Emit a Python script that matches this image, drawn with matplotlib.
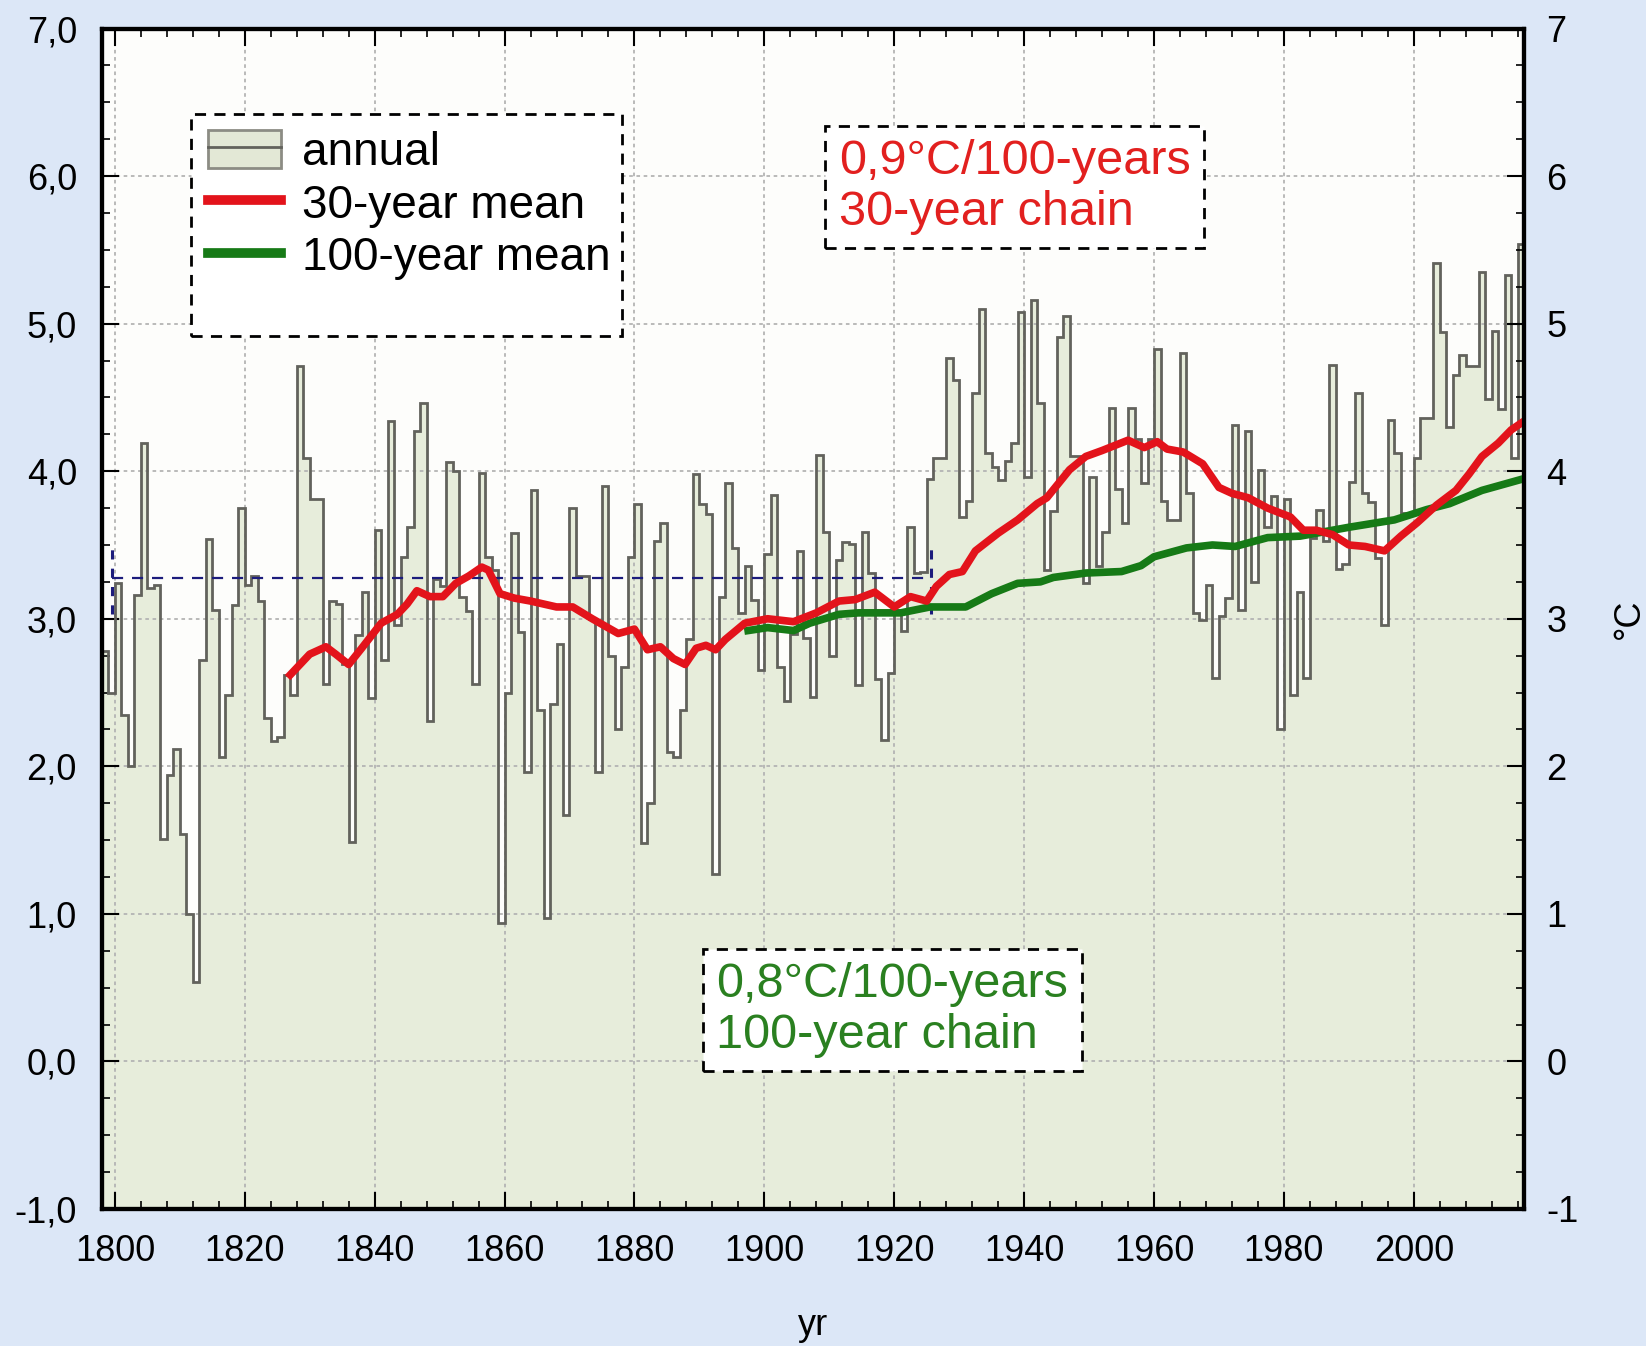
import numpy as np
import matplotlib
matplotlib.use("Agg")
import matplotlib.pyplot as plt
from matplotlib import font_manager
from matplotlib.patches import Patch, Rectangle
from matplotlib.lines import Line2D
from matplotlib.ticker import MultipleLocator

# annual values, one per year starting at first_year (step from year to year+1)
first_year = 1798
annual = [
    2.78, 2.50, 3.24, 2.35, 2.00, 3.16, 4.19, 3.21, 3.23, 1.51,
    1.94, 2.12, 1.54, 1.00, 0.54, 2.72, 3.54, 3.06, 2.06, 2.48,
    3.09, 3.75, 3.23, 3.29, 3.12, 2.33, 2.17, 2.20, 2.62, 2.48,
    4.71, 4.09, 3.81, 3.81, 2.56, 3.12, 3.10, 2.69, 1.49, 2.89,
    3.18, 2.46, 3.60, 2.72, 4.34, 2.96, 3.42, 3.62, 4.27, 4.46,
    2.31, 3.27, 3.22, 4.06, 4.00, 3.15, 3.05, 2.56, 3.99, 3.42,
    3.33, 0.94, 2.50, 3.58, 2.91, 1.96, 3.87, 2.38, 0.97, 2.42,
    2.83, 1.67, 3.75, 3.29, 3.29, 3.00, 1.96, 3.90, 2.75, 2.25,
    2.67, 3.42, 3.78, 1.48, 1.75, 3.53, 3.65, 2.10, 2.06, 2.38,
    2.86, 3.98, 3.78, 3.71, 1.27, 3.15, 3.92, 3.48, 3.04, 3.36,
    3.13, 2.65, 3.44, 3.84, 2.67, 2.44, 2.90, 3.46, 2.87, 2.47,
    4.11, 3.59, 2.75, 3.40, 3.52, 3.51, 2.55, 3.59, 3.31, 2.59,
    2.18, 2.63, 3.05, 2.92, 3.62, 3.31, 3.32, 3.95, 4.09, 4.09,
    4.77, 4.62, 3.69, 3.80, 4.53, 5.10, 4.12, 4.03, 3.94, 4.07,
    4.19, 5.08, 3.96, 5.16, 4.46, 3.33, 3.73, 4.91, 5.05, 4.10,
    4.10, 3.24, 3.96, 3.36, 3.59, 4.43, 3.88, 3.65, 4.43, 4.22,
    3.92, 4.22, 4.83, 3.80, 3.67, 3.67, 4.80, 3.85, 3.04, 2.99,
    3.23, 2.60, 3.02, 3.14, 4.31, 3.06, 4.27, 3.25, 4.01, 3.62,
    3.83, 2.25, 3.81, 2.48, 3.18, 2.60, 3.55, 3.74, 3.53, 4.72,
    3.34, 3.37, 3.93, 4.53, 3.85, 3.79, 3.41, 2.96, 4.35, 4.12,
    3.72, 3.72, 4.09, 4.36, 4.36, 5.41, 4.94, 4.30, 4.65, 4.79,
    4.71, 4.71, 5.35, 4.49, 4.95, 4.42, 5.33, 4.09, 5.54,
]

mean30_years = [
    1827, 1830, 1832.5, 1834, 1836, 1838, 1841, 1843.5, 1845, 1846.5,
    1848.5, 1850.5, 1852.5, 1854.5, 1856.5, 1857.5, 1859.3, 1861.5, 1864, 1866,
    1868, 1870.5, 1873.5, 1875.5, 1877.5, 1880, 1882, 1884, 1886, 1887.8,
    1889.5, 1891, 1892.5, 1894, 1897, 1900.5, 1904.5, 1908, 1911.5, 1914,
    1917, 1920, 1922.5, 1925, 1926.5, 1928.5, 1930.5, 1932.5, 1936, 1939,
    1942, 1943.5, 1947, 1949.5, 1952, 1956, 1958.5, 1960.5, 1962, 1964.5,
    1967.5, 1970, 1972, 1974.5, 1977.5, 1981, 1983, 1985, 1987.5, 1990,
    1992.5, 1995.5, 1998, 2000.5, 2003.5, 2006.5, 2008.5, 2010.5, 2013, 2015,
    2017,
]
mean30 = [
    2.62, 2.76, 2.81, 2.76, 2.69, 2.80, 2.97, 3.03, 3.10, 3.19,
    3.15, 3.15, 3.24, 3.29, 3.35, 3.33, 3.17, 3.14, 3.12, 3.10,
    3.08, 3.08, 3.00, 2.95, 2.90, 2.93, 2.79, 2.81, 2.73, 2.69,
    2.80, 2.82, 2.79, 2.86, 2.97, 3.00, 2.98, 3.04, 3.12, 3.13,
    3.18, 3.08, 3.15, 3.12, 3.22, 3.30, 3.32, 3.46, 3.58, 3.67,
    3.78, 3.82, 4.01, 4.10, 4.14, 4.21, 4.16, 4.20, 4.15, 4.13,
    4.05, 3.89, 3.85, 3.82, 3.75, 3.69, 3.60, 3.60, 3.57, 3.50,
    3.49, 3.46, 3.56, 3.65, 3.77, 3.87, 3.98, 4.10, 4.19, 4.28,
    4.34,
]

mean100_years = [
    1897.5, 1900.5, 1904.5, 1907, 1911.5, 1914.5, 1917.5, 1921, 1925.5, 1931,
    1935, 1939, 1942.5, 1944.5, 1949.5, 1955, 1958, 1960, 1965, 1969,
    1972.5, 1977.5, 1982.5, 1990, 1997, 2002, 2005.5, 2010.5, 2017,
]
mean100 = [
    2.92, 2.94, 2.92, 2.97, 3.03, 3.04, 3.04, 3.04, 3.08, 3.08,
    3.17, 3.24, 3.25, 3.28, 3.31, 3.32, 3.36, 3.42, 3.48, 3.50,
    3.49, 3.55, 3.56, 3.62, 3.67, 3.74, 3.78, 3.87, 3.95,
]

# dashed reference bracket
bracket_years = [1799.5, 1925.7]
bracket_level = 3.275
bracket_span = [3.03, 3.51]

left_ticks = list(range(-1, 8))
left_labels = ["-1,0", "0,0", "1,0", "2,0", "3,0", "4,0", "5,0", "6,0", "7,0"]
right_labels = ["-1", "0", "1", "2", "3", "4", "5", "6", "7"]
x_ticks = list(range(1800, 2001, 20))

BG_FIG = "#dce7f7"
BG_AX = "#fdfdfb"
FILL = "#e7eddb"
STEP = "#62625c"
RED = "#e3131b"
GREEN = "#167a16"
BLUE = "#1c1c7c"

names = {f.name for f in font_manager.fontManager.ttflist}
narrow = "Liberation Sans Narrow" if "Liberation Sans Narrow" in names else "Liberation Sans"
tick_size = 30 if narrow == "Liberation Sans Narrow" else 26
plt.rcParams["font.family"] = ["Liberation Sans", "DejaVu Sans"]

fig = plt.figure(figsize=(16.46, 13.46), dpi=100, facecolor=BG_FIG)
ax = fig.add_axes([0.0619, 0.1018, 0.926 - 0.0619, 0.9788 - 0.1018])
ax.set_facecolor(BG_AX)

edges = np.arange(first_year, first_year + len(annual) + 1)
ax.stairs(annual, edges, baseline=-1, fill=True, color=FILL, lw=0, zorder=1)
ax.stairs(annual, edges, baseline=None, color=STEP, lw=2.0, zorder=2)

ax.hlines(bracket_level, bracket_years[0], bracket_years[1], colors=BLUE,
          linestyles=(0, (5, 4)), lw=1.6, zorder=2.5)
ax.vlines(bracket_years, bracket_span[0], bracket_span[1], colors=BLUE,
          linestyles=(0, (3, 3)), lw=2.2, zorder=2.5)

ax.plot(mean100_years, mean100, color=GREEN, lw=5.5, zorder=3)
ax.plot(mean30_years, mean30, color=RED, lw=5.5, zorder=4)

ax.set_xlim(1798, 2017)
ax.set_ylim(-1, 7)
ax.grid(True, which="major", color="#b4b4b4", ls=(0, (2, 2)), lw=1.3)

ax.set_xticks(x_ticks)
ax.xaxis.set_minor_locator(MultipleLocator(4))
ax.set_yticks(left_ticks)
ax.set_yticklabels(left_labels)
ax.yaxis.set_minor_locator(MultipleLocator(0.25))
ax.tick_params(which="major", direction="in", length=12, width=1.5, top=True, right=False)
ax.tick_params(which="minor", direction="in", length=6, width=1.2, top=True, right=False)
ax.tick_params(axis="x", pad=18)
ax.tick_params(axis="y", pad=18)
for lab in ax.get_xticklabels() + ax.get_yticklabels():
    lab.set_family(narrow)
    lab.set_fontsize(tick_size)
for sp in ax.spines.values():
    sp.set_linewidth(3)
    sp.set_color("black")

ax.set_xlabel("yr", family=narrow, fontsize=tick_size, labelpad=28)

ax2 = ax.twinx()
ax2.set_ylim(-1, 7)
ax2.set_yticks(left_ticks)
ax2.set_yticklabels(right_labels)
ax2.yaxis.set_minor_locator(MultipleLocator(0.25))
ax2.tick_params(which="major", direction="in", length=12, width=1.5, pad=16)
ax2.tick_params(which="minor", direction="in", length=6, width=1.2)
for lab in ax2.get_yticklabels():
    lab.set_family(narrow)
    lab.set_fontsize(tick_size)
ax2.set_ylabel("°C", family=narrow, fontsize=tick_size, labelpad=24)
for sp in ax2.spines.values():
    sp.set_linewidth(3)

# legend box
ax.add_patch(Rectangle((0.0627, 0.7395), 0.303, 0.1885, transform=ax.transAxes,
                       fc="white", ec="black", ls=(0, (4, 3)), lw=2.0, zorder=6))
annual_handle = (Patch(fc="#e3e8d6", ec="#8c8c84", lw=2),
                 Line2D([], [], color=STEP, lw=2))
handles = [annual_handle,
           Line2D([], [], color=RED, lw=7),
           Line2D([], [], color=GREEN, lw=7)]
leg = ax.legend(handles, ["annual", "30-year mean", "100-year mean"],
                loc="upper left", bbox_to_anchor=(0.0747, 0.914),
                frameon=False, fontsize=33, handlelength=1.6, handleheight=0.9,
                handletextpad=0.45, labelspacing=0.17, borderpad=0,
                borderaxespad=0)
leg.set_zorder(7)

ax.text(0.518, 0.906, "0,9°C/100-years\n30-year chain", transform=ax.transAxes,
        ha="left", va="top", color="#e2201f", fontsize=35, linespacing=1.15,
        zorder=8,
        bbox=dict(boxstyle="square,pad=0.28", fc="white", ec="black",
                  ls=(0, (4, 3)), lw=2.0))
ax.text(0.432, 0.209, "0,8°C/100-years\n100-year chain", transform=ax.transAxes,
        ha="left", va="top", color="#2a8020", fontsize=35, linespacing=1.15,
        zorder=8,
        bbox=dict(boxstyle="square,pad=0.28", fc="white", ec="black",
                  ls=(0, (4, 3)), lw=2.0))

fig.savefig("out.png", dpi=100, facecolor=BG_FIG)
